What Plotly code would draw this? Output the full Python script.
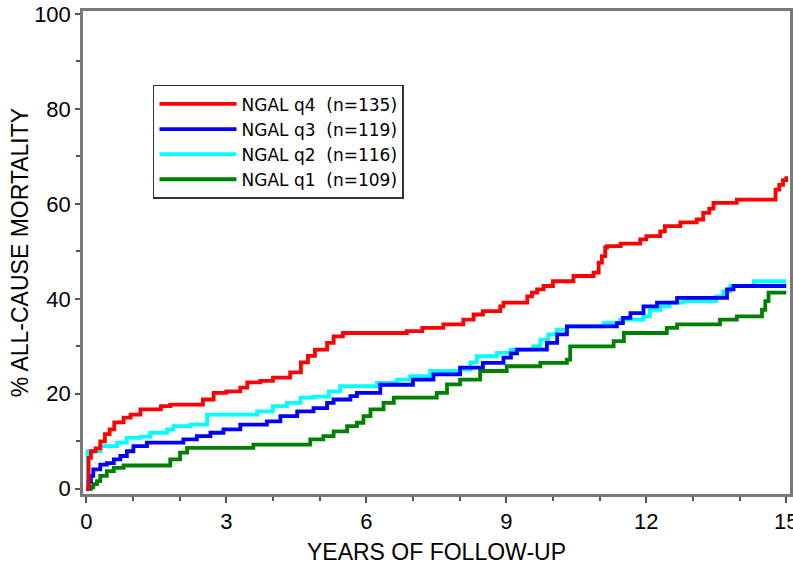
import plotly.graph_objects as go

# Years of follow-up and cumulative % all-cause mortality (step functions)
q4_t = [0, 0.05, 0.1, 0.2, 0.3, 0.4, 0.5, 0.6, 0.8, 0.95, 1.16, 1.6, 1.8, 2.5, 2.73, 3.0, 3.3, 3.45,
        3.73, 4.0, 4.37, 4.6, 4.75, 4.9, 5.16, 5.3, 5.5, 6.87, 7.2, 7.65, 8.08, 8.3, 8.5, 8.87, 8.94,
        9.45, 9.55, 9.66, 9.8, 10.0, 10.44, 10.87, 10.98, 11.05, 11.12, 11.16, 11.45, 11.87, 12.0,
        12.3, 12.4, 12.73, 13.08, 13.22, 13.35, 13.44, 13.94, 14.77, 14.85, 14.93, 15.0]
q4_v = [0, 6.5, 7.9, 8.5, 10, 11.5, 12.5, 14, 15, 15.6, 16.7, 17.4, 17.7, 18.8, 20.2, 20.5, 21.3, 22.4,
        22.7, 23.4, 24.5, 26.6, 28, 29.3, 30.7, 32.1, 32.8, 33.2, 33.9, 34.6, 35.6, 36.7, 37.4, 38.4, 39.2,
        40.5, 41.3, 42.0, 42.7, 43.7, 44.8, 45.5, 47.6, 49, 50.8, 51.1, 51.6, 52.5, 53.2,
        54.2, 55.3, 56.1, 56.7, 58.1, 59, 60.2, 60.9, 63, 64, 65, 65.8]

q3_t = [0, 0.05, 0.1, 0.15, 0.3, 0.44, 0.59, 0.73, 0.87, 1.01, 1.3, 2.08, 2.37, 2.66, 2.94, 3.3, 3.87,
        4.16, 4.52, 4.87, 5.16, 5.3, 5.66, 5.8, 6.3, 7.0, 7.44, 8.01, 8.5, 8.94, 9.1, 9.23, 9.87, 10.09,
        10.3, 11.37, 11.5, 11.66, 11.94, 12.23, 12.66, 13.73, 13.87, 15.0]
q3_v = [0, 1.5, 2.7, 4.1, 5.1, 5.4, 6.2, 6.9, 7.9, 9.0, 9.7, 10.4, 11.1, 11.8, 12.5, 13.5, 14.2,
        15.3, 16.3, 17.0, 18.1, 18.8, 19.5, 20.2, 21.9, 23.0, 24.1, 25.5, 26.5, 27.6, 28.5, 29.3, 30.7, 32.5,
        34.2, 34.9, 36.0, 37.0, 38.4, 39.2, 40.2, 42.0, 42.7, 42.7]

q2_t = [0, 0.03, 0.3, 0.66, 0.87, 1.16, 1.37, 1.73, 1.87, 2.23, 2.59, 3.66, 4.0, 4.3, 4.59, 4.87, 5.2,
        5.44, 6.23, 6.66, 6.94, 7.37, 8.01, 8.23, 8.37, 8.8, 9.09, 9.58, 9.73, 9.9, 10.08, 10.3, 11.08,
        11.44, 11.94, 12.08, 12.3, 12.5, 12.8, 13.5, 13.65, 13.8, 14.3, 15.0]
q2_v = [0, 7.9, 9.0, 9.7, 10.7, 11.0, 11.8, 12.5, 13.2, 13.5, 15.6, 16.3, 17.4, 18.1, 19.2, 19.4, 20.5,
        21.6, 22.3, 23.0, 23.7, 24.8, 25.1, 26.6, 27.9, 28.6, 29.3, 30.0, 31.4, 32.5, 33.5, 34.2, 34.9,
        35.6, 36.3, 37.7, 38.4, 39.2, 39.5, 40.5, 41.6, 42.7, 43.7, 43.7]

q1_t = [0, 0.1, 0.15, 0.23, 0.3, 0.44, 0.59, 0.8, 1.8, 2.01, 2.16, 3.58, 4.8, 5.08, 5.3, 5.59, 5.8,
        5.94, 6.09, 6.37, 6.59, 7.51, 7.73, 8.01, 8.44, 9.01, 9.73, 10.3, 10.37, 11.3, 11.52, 12.44,
        12.66, 13.58, 13.94, 14.48, 14.55, 14.62, 15.0]
q1_v = [0, 0.3, 1.0, 1.6, 2.7, 3.7, 4.4, 4.9, 6.2, 7.6, 8.6, 9.3, 10.4, 11.1, 12.1, 13.2, 13.9,
        15.3, 16.7, 18.1, 19.2, 20.2, 22.0, 23.0, 24.8, 25.8, 26.5, 27.2, 30.0, 31.1, 32.8, 33.9,
        34.6, 35.6, 36.3, 37.7, 39.5, 41.3, 41.3]

series_names = ["NGAL q4\u00a0\u00a0(n=135)", "NGAL q3\u00a0\u00a0(n=119)",
                "NGAL q2\u00a0\u00a0(n=116)", "NGAL q1\u00a0\u00a0(n=109)"]
series_colors = ["#ff0000", "#0000ff", "#00ffff", "#008000"]
x_ticks = [0, 3, 6, 9, 12, 15]
y_ticks = [0, 20, 40, 60, 80, 100]

FONT = "Liberation Sans, Arial, Helvetica, sans-serif"
LEGEND_FONT = "DejaVu Sans, Liberation Sans, sans-serif"

fig = go.Figure()
data = [(q1_t, q1_v, 3), (q2_t, q2_v, 2), (q3_t, q3_v, 1), (q4_t, q4_v, 0)]
for t, v, i in data:
    fig.add_trace(go.Scatter(
        x=t, y=v, mode="lines", line=dict(shape="hv", color=series_colors[i], width=3.8),
        name=series_names[i], legendrank=i + 1, hoverinfo="skip"))

fig.update_layout(
    width=793, height=575,
    margin=dict(l=83, r=3, t=11, b=81),
    paper_bgcolor="white", plot_bgcolor="white",
    font=dict(family=FONT, color="black", size=22),
    showlegend=True,
    legend=dict(
        x=0.099, y=0.847, xanchor="left", yanchor="top",
        bgcolor="white", bordercolor="#333333", borderwidth=1.5,
        font=dict(family=LEGEND_FONT, size=17, color="black"),
        itemwidth=77, tracegroupgap=0,
    ),
    xaxis=dict(
        range=[-0.07, 15.08], tickvals=x_ticks, ticktext=[str(v) for v in x_ticks],
        showgrid=False, zeroline=False, automargin=False, ticklabeloverflow="allow",
        showline=True, mirror=True, linecolor="#7a7a7a", linewidth=2.5,
        ticks="outside", ticklen=6, tickwidth=1.5, tickcolor="#555555",
        minor=dict(dtick=1, tick0=0, ticks="outside", ticklen=4, tickwidth=1.5, tickcolor="#555555"),
        tickfont=dict(size=22, family=FONT),
        title=dict(text="YEARS OF FOLLOW-UP", font=dict(size=23, family=FONT), standoff=11),
    ),
    yaxis=dict(
        range=[-1.1, 100.6], tickvals=y_ticks, ticktext=[str(v) for v in y_ticks],
        showgrid=False, zeroline=False, automargin=False, ticklabeloverflow="allow",
        showline=True, mirror=True, linecolor="#7a7a7a", linewidth=2.5,
        ticks="outside", ticklen=5, tickwidth=1.5, tickcolor="#555555",
        minor=dict(dtick=10, tick0=0, ticks="outside", ticklen=4, tickwidth=1.5, tickcolor="#555555"),
        tickfont=dict(size=22, family=FONT),
        title=dict(text="% ALL-CAUSE MORTALITY", font=dict(size=23, family=FONT), standoff=0),
    ),
)

# remove the default page margin so the 793x575 figure fills the window exactly
fig.write_html("out.html", config={"displayModeBar": False},
               post_script="document.body.style.margin='0';document.body.style.overflow='hidden';")
